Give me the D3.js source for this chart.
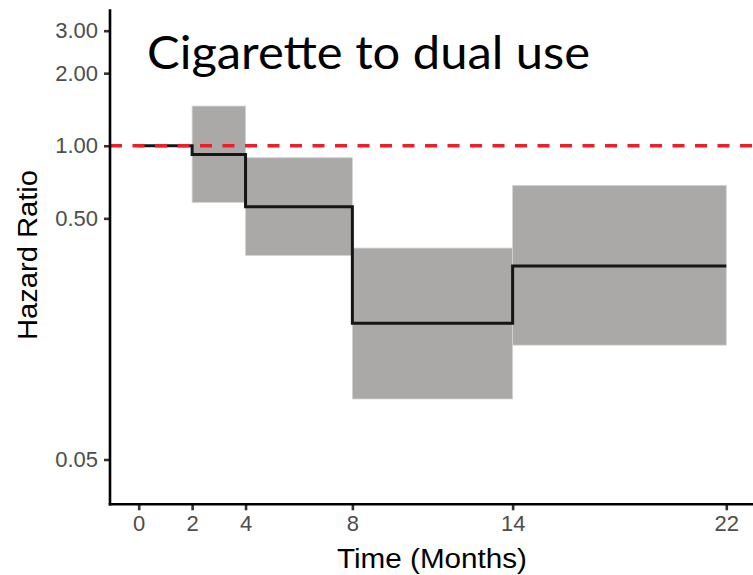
<!DOCTYPE html>
<html><head><meta charset="utf-8">
<script src="https://cdn.jsdelivr.net/npm/d3@7"></script>
<style>body{margin:0;background:#fff}svg{display:block}</style>
</head><body>
<svg id="c" width="753" height="575"></svg>
<script>
// Data
const starts = [0, 2, 4, 8, 14];
const ends = [2, 4, 8, 14, 22];
const hr = [1.00, 0.921, 0.559, 0.1835, 0.317];
const ciLow = [null, 0.582, 0.351, 0.0891, 0.149];
const ciHigh = [null, 1.461, 0.892, 0.3765, 0.685];
const xTicks = [0, 2, 4, 8, 14, 22];
const yTicks = [0.05, 0.5, 1, 2, 3];
const yTickLabels = ["0.05", "0.50", "1.00", "2.00", "3.00"];
const title = "Cigarette to dual use";

const svg = d3.select("#c");
const x = d3.scaleLinear().domain([-1.075, 23.0]).range([110, 753]);
const y = d3.scaleLog().domain([0.0326, 3.68]).range([504.3, 9.3]);

// CI ribbons
const segs = starts.map((s, i) => ({s, e: ends[i], hr: hr[i], lo: ciLow[i], hi: ciHigh[i]}));
svg.append("g").selectAll("rect").data(segs.filter(d => d.lo != null)).join("rect")
  .attr("x", d => x(d.s)).attr("width", d => x(d.e) - x(d.s))
  .attr("y", d => y(d.hi)).attr("height", d => y(d.lo) - y(d.hi))
  .attr("fill", "#aaa9a8").attr("stroke", "#d4d3d2").attr("stroke-width", 0.8);

// step line
const pts = [];
segs.forEach(d => { pts.push([d.s, d.hr]); pts.push([d.e, d.hr]); });
svg.append("path").datum(pts)
  .attr("d", d3.line().x(d => x(d[0])).y(d => y(d[1])))
  .attr("fill", "none").attr("stroke", "#151515").attr("stroke-width", 3)
  .attr("stroke-linejoin", "miter");

// reference line
svg.append("line").attr("x1", 110).attr("x2", 753).attr("y1", y(1)).attr("y2", y(1))
  .attr("stroke", "#ee2027").attr("stroke-width", 3.3).attr("stroke-dasharray", "12,10.5");

// axes
const yAxis = svg.append("g").attr("transform", "translate(110,0)")
  .call(d3.axisLeft(y).tickValues(yTicks).tickFormat((d, i) => yTickLabels[i]).tickSize(6).tickPadding(6));
const xAxis = svg.append("g").attr("transform", "translate(0,504.3)")
  .call(d3.axisBottom(x).tickValues(xTicks).tickFormat(d3.format("d")).tickSize(6).tickPadding(5));
[yAxis, xAxis].forEach(g => {
  g.select(".domain").remove();
  g.selectAll(".tick line").attr("stroke", "#333").attr("stroke-width", 2.6);
  g.selectAll(".tick text").attr("fill", "#4d4d4d").attr("font-family", "Liberation Sans, Arial, sans-serif").attr("font-size", 22);
});
svg.append("line").attr("x1", 110).attr("x2", 110).attr("y1", 9.3).attr("y2", 505.5).attr("stroke", "#000").attr("stroke-width", 2.6);
svg.append("line").attr("x1", 108.7).attr("x2", 753).attr("y1", 504.3).attr("y2", 504.3).attr("stroke", "#000").attr("stroke-width", 2.6);

// labels
svg.append("text").attr("x", 432).attr("y", 568).attr("text-anchor", "middle")
  .attr("font-family", "Liberation Sans, Arial, sans-serif").attr("font-size", 27).attr("fill", "#000")
  .attr("textLength", 190).attr("lengthAdjust", "spacingAndGlyphs")
  .text("Time (Months)");
svg.append("text").attr("transform", "translate(37,255) rotate(-90)").attr("text-anchor", "middle")
  .attr("font-family", "Liberation Sans, Arial, sans-serif").attr("font-size", 27).attr("fill", "#000")
  .attr("textLength", 170).attr("lengthAdjust", "spacingAndGlyphs")
  .text("Hazard Ratio");
svg.append("text").attr("x", 147).attr("y", 68.5)
  .attr("font-family", "Lato, Open Sans, sans-serif").attr("font-size", 47).attr("fill", "#000")
  .attr("textLength", 443).attr("lengthAdjust", "spacingAndGlyphs")
  .text(title);
</script>
</body></html>
